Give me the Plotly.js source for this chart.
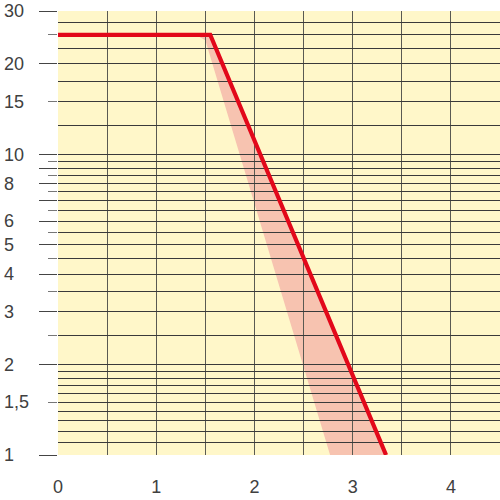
<!DOCTYPE html>
<html>
<head>
<meta charset="utf-8">
<script src="https://cdn.plot.ly/plotly-3.0.1.min.js"></script>
<style>html,body{margin:0;padding:0;background:#fff}#chart{width:500px;height:500px}</style>
</head>
<body>
<div id="chart"></div>
<script>
// ---- data ----
const lineX = [0, 1.55, 3.34];
const lineY = [25, 25, 1];
const bandX = [1.40, 1.55, 3.34, 2.77, 1.50];
const bandY = [25, 25, 1, 1, 24];

const yLabelVals = [1, 1.5, 2, 3, 4, 5, 6, 8, 10, 15, 20, 30];
const yLabelText = ['1', '1,5', '2', '3', '4', '5', '6', '8', '10', '15', '20', '30'];
const yLongTicks = [1, 2, 3, 4, 5, 6, 7, 8, 9, 10, 20, 30];
const yShortTicks = [1.5, 2.5, 3.5, 4.5, 5.5, 6.5, 7.5, 8.5, 9.5, 15, 25];
const yGridOnly = [1.1, 1.2, 1.3, 1.4, 1.6, 1.7, 1.8, 1.9, 12.5, 17.5, 22.5, 27.5];
const xGridVals = [0, 0.5, 1, 1.5, 2, 2.5, 3, 3.5, 4, 4.5];
const xGridText = ['0', '', '1', '', '2', '', '3', '', '4', ''];

// ---- layout constants ----
const W = 500, H = 500;
const plotLeftPx = 58;
const xMax = 4.5;
const xDomStart = plotLeftPx / W;
const xMinFull = -xMax * plotLeftPx / (W - plotLeftPx);
const yRange = [0, Math.log10(30)];

const fontFam = "'Liberation Sans', Arial, sans-serif";
const labelColor = '#404040';
const hGrid = '#3a3a3a';
const vGrid = '#5a5a52';

const traces = [
  { x: bandX, y: bandY, xaxis: 'x', yaxis: 'y', mode: 'lines', fill: 'toself',
    fillcolor: '#f7c3b0', line: { width: 0, color: 'rgba(0,0,0,0)' }, hoverinfo: 'skip', showlegend: false },
  // empty carriers so the overlay axes (tick/grid sets) are built
  { x: [], y: [], xaxis: 'x2', yaxis: 'y3', mode: 'lines', showlegend: false, hoverinfo: 'skip' },
  { x: [], y: [], xaxis: 'x2', yaxis: 'y4', mode: 'lines', showlegend: false, hoverinfo: 'skip' },
  { x: lineX, y: lineY, xaxis: 'x2', yaxis: 'y2', mode: 'lines',
    line: { color: '#e2081a', width: 4.2 }, showlegend: false }
];

const baseLog = { type: 'log', range: yRange, autorange: false, zeroline: false, showline: false, fixedrange: true };

const layout = {
  width: W, height: H,
  margin: { l: 0, r: 0, t: 11, b: 45, pad: 0 },
  paper_bgcolor: '#ffffff',
  plot_bgcolor: 'rgba(0,0,0,0)',
  showlegend: false,
  font: { family: fontFam, size: 18, color: labelColor },
  shapes: [
    { type: 'rect', xref: 'paper', yref: 'paper', x0: xDomStart, x1: 1, y0: 0, y1: 1,
      fillcolor: '#fff7c9', line: { width: 0 }, layer: 'below' }
  ],
  xaxis: { domain: [0, 1], anchor: 'y', range: [xMinFull, xMax], autorange: false,
    showgrid: false, zeroline: false, showline: false, showticklabels: false, ticks: '' },
  yaxis: Object.assign({}, baseLog, { anchor: 'x', side: 'left',
    tickmode: 'array', tickvals: yLabelVals, ticktext: yLabelText,
    ticks: '', showgrid: false, ticklabelposition: 'inside', ticklabeloverflow: 'allow',
    ticklabelstandoff: 1,
    tickfont: { family: fontFam, size: 18, color: labelColor } }),
  xaxis2: { domain: [xDomStart, 1], anchor: 'y2', range: [0, xMax], autorange: false,
    tickmode: 'array', tickvals: xGridVals, ticktext: xGridText,
    showgrid: true, gridcolor: vGrid, gridwidth: 1, zeroline: false, showline: false,
    ticks: 'outside', ticklen: 15, tickcolor: 'rgba(0,0,0,0)',
    tickfont: { family: fontFam, size: 18, color: labelColor } },
  yaxis2: Object.assign({}, baseLog, { anchor: 'x2',
    tickmode: 'array', tickvals: yLongTicks, showticklabels: false,
    ticks: 'outside', ticklen: 18, tickcolor: '#444', tickwidth: 1,
    showgrid: true, gridcolor: hGrid, gridwidth: 1 }),
  yaxis3: Object.assign({}, baseLog, { anchor: 'x2', overlaying: 'y2',
    tickmode: 'array', tickvals: yShortTicks, showticklabels: false,
    ticks: 'outside', ticklen: 9, tickcolor: '#777', tickwidth: 1,
    showgrid: true, gridcolor: hGrid, gridwidth: 1 }),
  yaxis4: Object.assign({}, baseLog, { anchor: 'x2', overlaying: 'y2',
    tickmode: 'array', tickvals: yGridOnly, showticklabels: false, ticks: '',
    showgrid: true, gridcolor: hGrid, gridwidth: 1 })
};

Plotly.newPlot('chart', traces, layout, { staticPlot: true, displayModeBar: false });
</script>
</body>
</html>
